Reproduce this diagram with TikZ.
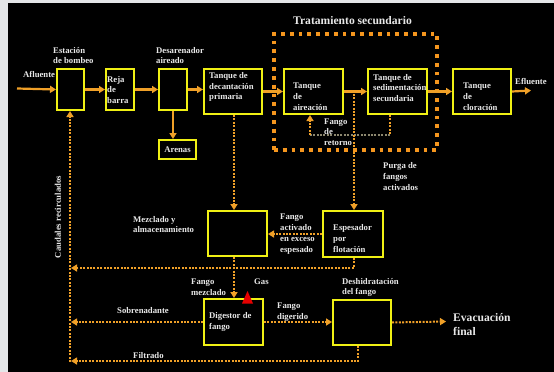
\documentclass[tikz,border=0pt]{standalone}
\usepackage{fontspec}
\setmainfont{Liberation Serif}
\usetikzlibrary{arrows.meta}
\definecolor{boxyellow}{RGB}{240,240,20}
\definecolor{flow}{RGB}{240,160,40}
\definecolor{dotorange}{RGB}{245,150,30}
\definecolor{txt}{RGB}{232,232,232}
\definecolor{framegray}{RGB}{228,230,232}
\definecolor{retgray}{RGB}{140,135,110}
\definecolor{gasred}{RGB}{230,0,0}
\begin{document}
\begin{tikzpicture}[x=1pt,y=-1pt,
  box/.style={draw=boxyellow,line width=2pt,fill=black,inner sep=0pt,anchor=north west,text=txt,font=\bfseries\fontsize{8.7}{10.8}\selectfont},
  lbl/.style={text=txt,font=\bfseries\fontsize{8.7}{10.8}\selectfont,align=left,inner sep=0pt,anchor=west},
  biglbl/.style={text=txt,font=\bfseries\fontsize{11.6}{14}\selectfont,align=left,inner sep=0pt,anchor=west},
  flowarrow/.style={draw=flow,line width=2.2pt,-{Triangle[width=7pt,length=6pt]}},
  dotline/.style={draw=flow,line width=2pt,dash pattern=on 2pt off 1.4pt},
  dotarrow/.style={dotline,-{Triangle[width=7pt,length=6pt]}},
  graydot/.style={draw=retgray,line width=2pt,dash pattern=on 2pt off 1.4pt},
  secbox/.style={draw=dotorange,line width=3.8pt,dash pattern=on 3.8pt off 5pt,inner sep=0pt,anchor=north west}]
\fill[framegray] (0,0) rectangle (554,372);
\fill[black] (8,3) rectangle (554,372);
\useasboundingbox (0,0) rectangle (554,372);

% secondary treatment frame
\node[secbox,minimum width=163pt,minimum height=116pt] (sec) at (272,32) {};

% boxes
\node[box,minimum width=27pt,minimum height=41pt] (bombeo) at (56,68) {};
\node[box,minimum width=28pt,minimum height=41pt] (reja) at (105,68) {};
\node[box,minimum width=28pt,minimum height=41pt] (desar) at (158,68) {};
\node[box,minimum width=37pt,minimum height=19pt] (arenas) at (158,139) {Arenas};
\node[box,minimum width=58pt,minimum height=45pt] (primaria) at (203,68) {};
\node[box,minimum width=59pt,minimum height=45pt] (aireacion) at (283,68) {};
\node[box,minimum width=59pt,minimum height=45pt] (sedim) at (367,68) {};
\node[box,minimum width=58pt,minimum height=45pt] (clor) at (452,68) {};
\node[box,minimum width=59pt,minimum height=45pt] (mezcl) at (207,210) {};
\node[box,minimum width=60pt,minimum height=46pt] (espes) at (322,210) {};
\node[box,minimum width=59pt,minimum height=46pt] (digest) at (203,298) {};
\node[box,minimum width=58pt,minimum height=45pt] (deshid) at (332,299) {};

% coordinates
\coordinate (afl) at (17,88.5);
\coordinate (efl) at (531,90.5);
\coordinate (vx) at (234,0);
\coordinate (ret1) at (390,135);
\coordinate (ret2) at (310,135);
\coordinate (pg) at (354,90.5);
\coordinate (e1) at (354,268);
\coordinate (rc1) at (71,268);
\coordinate (rcx) at (71,0);
\coordinate (f1) at (358,361);
\coordinate (rcf) at (71,361);
\coordinate (rb) at (70,362);
\coordinate (evac) at (446,321.5);

% main flow
\draw[flowarrow] (afl) -- (bombeo.west);
\draw[flowarrow] (bombeo.east) -- (reja.west);
\draw[flowarrow] (reja.east) -- (desar.west);
\draw[flowarrow] (desar.east) -- (desar.east -| primaria.west);
\draw[flowarrow] (primaria.east) -- (aireacion.west);
\draw[flowarrow] (aireacion.east) -- (sedim.west);
\draw[flowarrow] (sedim.east) -- (clor.west);
\draw[flowarrow] (clor.east) -- (efl);
\draw[flowarrow] (desar.south) -- (desar.south |- arenas.north);

% return sludge
\draw[dotline] (sedim.south -| ret1) -- (ret1);
\draw[graydot] (ret1) -- (ret2);
\draw[dotarrow] (ret2) -- (ret2 |- aireacion.south);

% sludge lines
\draw[dotarrow] (pg) -- (pg |- espes.north);
\draw[dotarrow] (primaria.south -| vx) -- (mezcl.north -| vx);
\draw[dotarrow] (espes.west) -- (espes.west -| mezcl.east);
\draw[dotarrow] (espes.south -| e1) -- (e1) -- (rc1);
\draw[dotarrow] (mezcl.south -| vx) -- (digest.north -| vx);
\draw[dotarrow] (digest.west) -- (digest.west -| rcx);
\draw[dotarrow] (digest.east) -- (digest.east -| deshid.west);
\draw[dotarrow] (deshid.east) -- (evac);
\draw[dotarrow] (deshid.south -| f1) -- (f1) -- (rcf);
\draw[dotarrow] (rb) -- (rb |- bombeo.south);

% gas
\fill[gasred] (242,303.5) -- (253,303.5) -- (247.5,291) -- cycle;

% labels
\node[lbl] (tafl) at (23,74) {Afluente};
\node[lbl] (tbomb) at (53,55.5) {Estación\\de bombeo};
\node[lbl] (treja) at (107,90) {Reja\\de\\barra};
\node[lbl] (tdesar) at (156,55.5) {Desarenador\\aireado};
\node[lbl] (tprim) at (209,87) {Tanque de\\decantación\\primaria};
\node[biglbl] (tsec) at (293,21) {Tratamiento secundario};
\node[lbl] (taire) at (293,96.5) {Tanque\\de\\aireación};
\node[lbl] (tsedim) at (373,88) {Tanque de\\sedimentación\\secundaria};
\node[lbl] (tclor) at (463,96.5) {Tanque\\de\\cloración};
\node[lbl] (tefl) at (515,81) {Efluente};
\node[lbl] (tret) at (324,132) {Fango\\de\\retorno};
\node[lbl] (tpurga) at (383,176.5) {Purga de\\fangos\\activados};
\node[lbl] (tmezcl) at (133,224.5) {Mezclado y\\almacenamiento};
\node[lbl] (texc) at (280,234) {Fango\\activado\\en exceso\\espesado};
\node[lbl] (tespes) at (333,238.5) {Espesador\\por\\flotación};
\node[lbl,rotate=90,anchor=center] (tcaud) at (58,217) {Caudales recirculados};
\node[lbl] (tfmez) at (191,287) {Fango\\mezclado};
\node[lbl] (tgas) at (254,282) {Gas};
\node[lbl] (tsobre) at (117,311) {Sobrenadante};
\node[lbl] (tdig) at (209,322) {Digestor de\\fango};
\node[lbl] (tfdig) at (277,312.5) {Fango\\digerido};
\node[lbl] (tdesh) at (342,287.5) {Deshidratación\\del fango};
\node[biglbl] (tevac) at (453,325) {Evacuación\\final};
\node[lbl] (tfilt) at (133,356) {Filtrado};
\end{tikzpicture}
\end{document}
